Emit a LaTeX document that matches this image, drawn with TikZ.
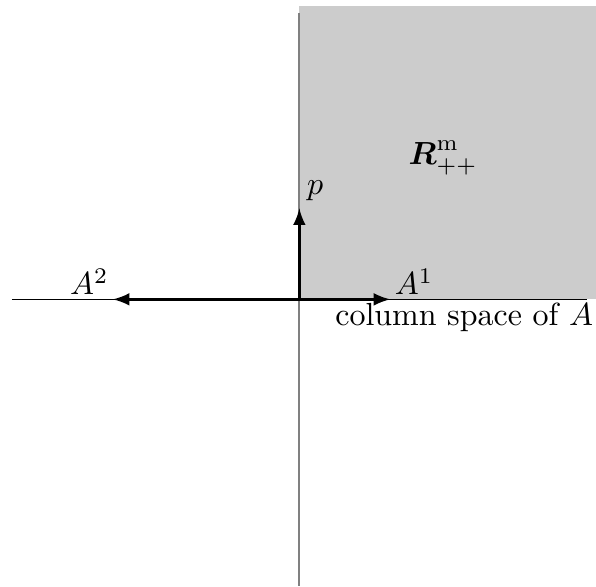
\documentclass[tikz,border=0pt]{standalone}
\usepackage{amsmath,amssymb}
\usepackage{tikz}

\begin{document}
\begin{tikzpicture}[scale=1.0,>=latex]
\useasboundingbox (-3.29,-3.16) rectangle (3.26,3.29);
\fill[black!20] (0,0) rectangle (3.26,3.22);
\coordinate (O) at (0,0);
\coordinate (xl) at (-3.16,0);
\coordinate (xr) at (3.16,0);
\coordinate (yb) at (0,-3.15);
\coordinate (yt) at (0,3.15);
\draw[gray,semithick] (yb) -- (yt);
\draw (xl) -- (xr);
\coordinate (a1) at (1,0);
\coordinate (a2) at (-2.05,0);
\coordinate (p) at (0,1);
\draw[->,thick] (O) -- (a1) node[above right,inner sep=1pt] (lA1) {$A^1$};
\draw[->,thick] (O) -- (a2) node[above left,inner sep=1pt] (lA2) {$A^2$};
\draw[->,thick] (O) -- (p) node[above right,inner sep=2pt] (lp) {$p$};
\node (Rpp) at (1.58,1.55) {$\boldsymbol{R}^{\mathrm{m}}_{++}$};
\node[below left,inner sep=1pt] (col) at (3.27,0) {column space of $A$};
\end{tikzpicture}
\end{document}
